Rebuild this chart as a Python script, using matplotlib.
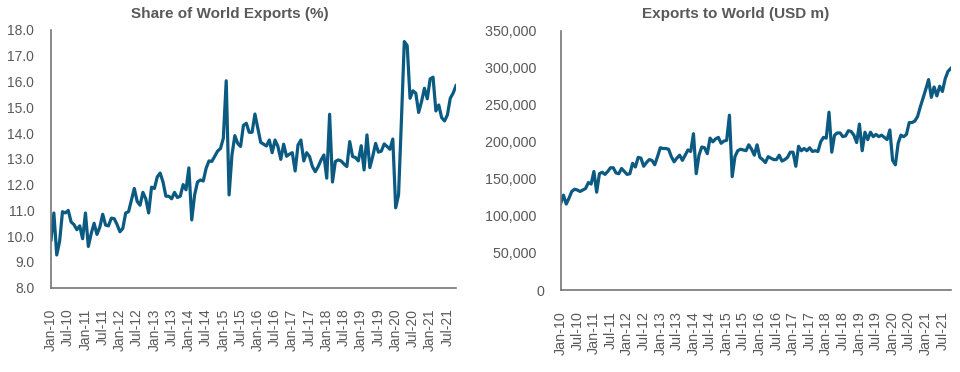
import numpy as np
import pandas as pd
import matplotlib.pyplot as plt
from matplotlib.ticker import FuncFormatter

plt.rcParams['font.family'] = ['Liberation Sans', 'DejaVu Sans']

months = pd.date_range('2010-01-01', '2021-10-01', freq='MS')
month_labels = [m.strftime('%b-%y') for m in months]

# share of world exports, %
share = [9.85, 10.9, 9.27, 9.8, 10.95, 10.9, 11.0, 10.55, 10.45, 10.25,
         10.4, 9.9, 10.9, 9.6, 10.1, 10.5, 10.07, 10.35, 10.85, 10.43,
         10.4, 10.7, 10.68, 10.45, 10.17, 10.3, 10.9, 10.95, 11.4, 11.85,
         11.35, 11.2, 11.7, 11.45, 10.9, 11.9, 11.85, 12.3, 12.45, 12.1,
         11.55, 11.55, 11.45, 11.7, 11.5, 11.55, 12.0, 11.8, 12.65, 10.63,
         11.6, 12.1, 12.18, 12.14, 12.63, 12.92, 12.9, 13.1, 13.3, 13.4,
         13.8, 16.03, 11.6, 13.15, 13.9, 13.6, 13.48, 14.3, 14.38, 14.03,
         14.03, 14.74, 14.19, 13.64, 13.57, 13.5, 13.73, 13.24, 13.73, 13.48,
         12.98, 13.57, 13.1, 13.18, 13.24, 12.53, 13.54, 13.73, 12.92, 13.24,
         13.09, 12.7, 12.5, 12.7, 12.95, 13.15, 12.25, 14.73, 12.1, 12.9,
         12.96, 12.92, 12.8, 12.7, 13.67, 13.09, 13.05, 12.92, 13.51, 12.57,
         13.93, 12.66, 13.09, 13.6, 13.26, 13.3, 13.58, 13.48, 13.37, 13.77,
         11.1, 11.6, 14.5, 17.55, 17.4, 15.35, 15.64, 15.55, 14.8, 15.22,
         15.74, 15.33, 16.1, 16.17, 14.86, 15.09, 14.6, 14.47, 14.7, 15.35,
         15.55, 15.84]

# exports to world, USD bn (plotted in USD m)
exports_bn = [117, 128, 116, 124, 133, 136, 135, 133, 135, 137,
              145, 143, 160, 132, 157, 159, 156, 160, 165, 165,
              158, 157, 164, 160, 156, 157, 171, 166, 179, 178,
              167, 172, 176, 175, 169, 180, 192, 191, 191, 190,
              180, 173, 178, 182, 175, 182, 189, 187, 211, 157,
              182, 193, 192, 184, 205, 200, 204, 206, 198, 201,
              202, 236, 153, 180, 188, 190, 189, 188, 196, 190,
              182, 196, 179, 176, 172, 180, 178, 176, 176, 182,
              174, 176, 179, 186, 186, 167, 194, 188, 191, 188,
              192, 187, 188, 187, 200, 206, 205, 240, 186, 209,
              212, 212, 207, 208, 215, 214, 209, 199, 224, 188,
              213, 203, 213, 207, 210, 207, 209, 206, 203, 216,
              175, 169, 198, 209, 207, 210, 226, 226, 228, 234,
              247, 259, 271, 284, 260, 274, 262, 275, 268, 285,
              295, 299]
exports = np.array(exports_bn) * 1000

line_col = '#0b5a82'
text_col = '#595959'
spine_col = '#767676'

fig = plt.figure(figsize=(9.6, 3.72), dpi=100)
ax1 = fig.add_axes([51/960, 1 - 287.7/372, 405/960, 257.7/372])
ax2 = fig.add_axes([560.7/960, 1 - 290/372, 390/960, 259.3/372])

x = np.arange(len(months))
ticks = x[::6]

ax1.plot(x, share, color=line_col, lw=2.3, solid_joinstyle='round')
ax1.set_ylim(8, 18)
ax1.set_yticks(np.arange(8, 18.1, 1))
ax1.yaxis.set_major_formatter(FuncFormatter(lambda v, p: f'{v:.1f}'))

ax2.plot(x, exports, color=line_col, lw=2.3, solid_joinstyle='round')
ax2.set_ylim(0, 350000)
ax2.set_yticks(np.arange(0, 350001, 50000))
ax2.yaxis.set_major_formatter(
    FuncFormatter(lambda v, p: '0' if v == 0 else f'{v:,.0f}  '))

for ax, fs in [(ax1, 10), (ax2, 10.3)]:
    ax.set_xlim(0, len(months) - 1)
    ax.set_xticks(ticks)
    ax.set_xticklabels([month_labels[i] for i in ticks], rotation=90)
    for s in ['top', 'right']:
        ax.spines[s].set_visible(False)
    for s in ['left', 'bottom']:
        ax.spines[s].set_color(spine_col)
        ax.spines[s].set_linewidth(1.2)
    ax.tick_params(axis='both', length=0, colors=text_col, labelsize=fs)
    ax.tick_params(axis='x', pad=15)
    ax.tick_params(axis='y', pad=12)

fig.text(229.5/960, 1 - 14/372, 'Share of World Exports (%)', ha='center',
         va='center', fontsize=11, fontweight='bold', color=text_col)
fig.text(735.7/960, 1 - 14/372, 'Exports to World (USD m)', ha='center',
         va='center', fontsize=11, fontweight='bold', color=text_col)

fig.savefig('out.png', dpi=100)
